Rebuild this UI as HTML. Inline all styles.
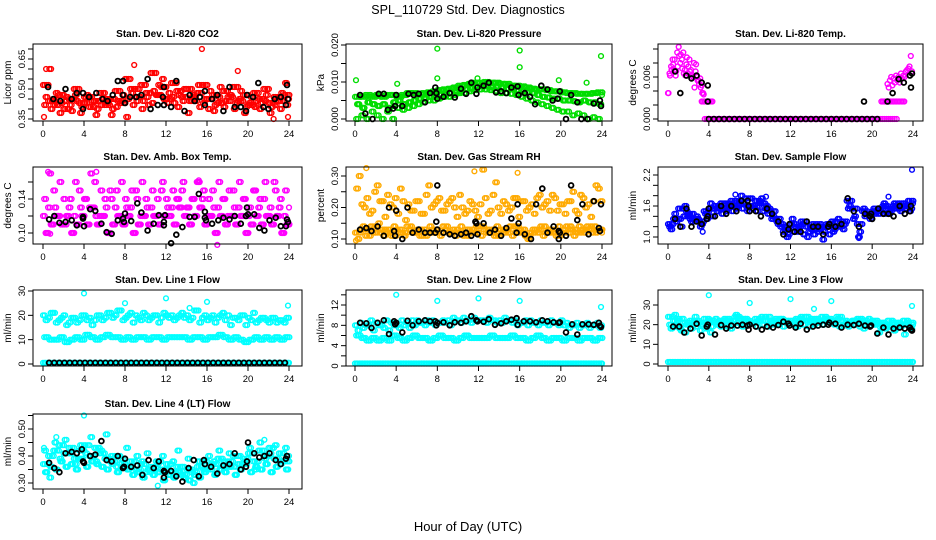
<!DOCTYPE html>
<html><head><meta charset="utf-8"><style>
body{margin:0;background:#fff;}
svg{display:block;font-family:"Liberation Sans",Arial,sans-serif;}
</style></head><body>
<svg id="chart" width="936" height="540" viewBox="0 0 936 540">
<rect width="936" height="540" fill="#fff"/>
<text x="468" y="14" font-size="12.5" text-anchor="middle">SPL_110729  Std. Dev. Diagnostics</text>
<text x="468" y="531" font-size="13" text-anchor="middle">Hour of Day (UTC)</text>
</svg>
<script>
// ---------- data ----------
const xTicks=[0,4,8,12,16,20,24];
const stepHalf=0.5;

const co2A=[0.52,0.44,0.42,0.47,0.40,0.45,0.50,0.43,0.46,0.41,0.44,0.48,0.42,0.45,0.49,0.43,0.55,0.50,0.46,0.52,0.48,0.58,0.47,0.51,0.45,0.53,0.49,0.46,0.50,0.44,0.48,0.52,0.45,0.47,0.43,0.49,0.46,0.51,0.44,0.47,0.42,0.48,0.45,0.50,0.43,0.46,0.44,0.47,0.45];
const co2B=[0.46,0.40,0.48,0.43,0.46,0.39,0.44,0.41,0.47,0.44,0.40,0.45,0.43,0.40,0.44,0.47,0.45,0.42,0.50,0.44,0.42,0.49,0.52,0.45,0.48,0.43,0.47,0.50,0.44,0.46,0.41,0.45,0.49,0.42,0.51,0.44,0.47,0.43,0.49,0.41,0.46,0.44,0.43,0.47,0.41,0.44,0.48,0.42,0.43];
const co2C=[0.42,0.60,0.45,0.38,0.44,0.42,0.47,0.38,0.43,0.46,0.37,0.42,0.45,0.37,0.41,0.44,0.36,0.48,0.44,0.40,0.46,0.43,0.47,0.55,0.43,0.46,0.41,0.44,0.38,0.47,0.52,0.43,0.40,0.39,0.46,0.41,0.44,0.40,0.45,0.38,0.43,0.41,0.40,0.44,0.38,0.42,0.40,0.53,0.44];
const co2OutT=[0.3,8.9,15.5,19.0,0.1,22.5,23.9];
const co2OutV=[0.60,0.62,0.70,0.59,0.36,0.35,0.36];
const co2BlkT=[0.5,1,1.7,2.2,2.8,3.3,3.9,3.9,4.5,5.2,5.8,6.3,6.8,7.3,7.8,7.8,8.0,8.5,9.1,9.6,10.2,10.5,11.2,11.7,11.8,11.8,12.5,13.0,13.8,14.3,14.8,15.3,15.8,15.8,16.5,17.0,17.6,18.2,18.7,19.3,19.8,19.9,20.5,21.0,21.5,22.0,22.6,23.2,23.7,23.8,23.9];
const co2BlkV=[0.51,0.45,0.44,0.50,0.45,0.48,0.40,0.48,0.46,0.48,0.45,0.44,0.47,0.54,0.54,0.47,0.43,0.46,0.46,0.47,0.55,0.40,0.42,0.46,0.42,0.51,0.41,0.54,0.39,0.47,0.44,0.46,0.42,0.49,0.45,0.47,0.39,0.51,0.41,0.41,0.39,0.47,0.46,0.53,0.41,0.40,0.45,0.46,0.42,0.52,0.45];

const presA=[0.006,0.006,0.0065,0.006,0.0065,0.006,0.0065,0.0065,0.006,0.0065,0.007,0.007,0.0068,0.007,0.0072,0.0075,0.0078,0.008,0.0082,0.0085,0.009,0.0092,0.0095,0.0098,0.0098,0.01,0.0098,0.0098,0.0095,0.0095,0.009,0.009,0.0088,0.0085,0.0082,0.008,0.008,0.0078,0.0075,0.0075,0.0072,0.007,0.007,0.0068,0.0068,0.0068,0.007,0.0072,0.0065];
const presB=[0.004,0.003,0.0045,0.004,0.0035,0.004,0.003,0.0045,0.005,0.004,0.0045,0.005,0.0055,0.0055,0.006,0.006,0.0065,0.0065,0.007,0.0072,0.0075,0.008,0.0082,0.0085,0.0088,0.0088,0.0085,0.0088,0.0085,0.0082,0.008,0.0078,0.0075,0.0072,0.007,0.0065,0.006,0.0058,0.0055,0.0055,0.005,0.005,0.0048,0.0045,0.005,0.0045,0.0045,0.004,0.004];
const presC=[0.0,0.001,0.0,0.002,0.001,0.0,0.002,0.0,0.003,0.0025,0.003,0.0035,0.004,0.0045,0.005,0.005,0.0055,0.006,0.006,0.0065,0.007,0.007,0.0075,0.0078,0.008,0.008,0.0078,0.0075,0.007,0.007,0.0068,0.0065,0.006,0.0055,0.005,0.0045,0.004,0.0035,0.003,0.0025,0.002,0.002,0.001,0.0015,0.001,0.0,0.0005,0.0,0.002];
const presOutT=[0.1,8.0,8.0,16.0,16.0,23.9,4.1,11.9,19.8,22.5];
const presOutV=[0.0105,0.019,0.011,0.0185,0.014,0.017,0.0095,0.011,0.0105,0.0098];
const presBlkT=[0.5,1.0,1.7,2.3,2.8,3.2,3.7,3.9,4.0,4.6,5.2,5.7,6.2,6.8,7.3,7.8,7.9,8.0,8.6,9.2,9.7,10.3,10.8,11.3,11.8,11.9,12.5,13.0,13.7,14.2,14.7,15.2,15.8,15.9,16.5,17.0,17.5,18.1,18.7,19.2,19.7,19.9,20.5,21.0,21.6,22.0,22.6,23.2,23.8,23.9];
const presBlkV=[0.0065,0.0015,0,0.0068,0.0068,0.0025,0.0028,0.0035,0.0065,0.0035,0.0068,0.0065,0.0068,0.0045,0.007,0.0085,0.007,0.0055,0.006,0.007,0.0058,0.0082,0.0068,0.0098,0.0068,0.0085,0.009,0.0098,0.0072,0.0075,0.007,0.0085,0.0088,0.0065,0.007,0.006,0.004,0.009,0.008,0.005,0.0055,0.0075,0,0.0065,0.0045,0,0,0.0042,0.005,0.0035];

const tempEarlyA=[0.0037,0.0065,0.0075,0.0085,0.007,0.0062,0.0095,0.0103,0.008,0.0085,0.0095,0.007,0.0078,0.0065,0.0085,0.007,0.0062,0.008,0.0068,0.006,0.0055,0.0058,0.0048,0.0037];
const tempEarlyB=[0.0037,0.0062,0.007,0.0078,0.0085,0.0068,0.0075,0.009,0.0092,0.0072,0.0065,0.0062,0.0088,0.0075,0.0068,0.0058,0.006,0.0045,0.0078,0.0055,0.005,0.0045,0.0037,0.0035];
const tempLevelA=[0.0025,0.0025,0.0025,0.0025,0.0025,0.0025,0.0025,0.0025];
const tempZero=[0,0,0,0,0,0,0,0,0,0,0,0,0,0,0,0,0,0,0,0,0,0,0,0,0,0,0,0,0,0,0,0,0,0,0,0,0,0,0,0,0,0,0,0,0,0,0,0,0,0,0,0,0,0,0,0,0,0,0,0,0,0,0,0,0,0,0,0,0,0,0,0,0,0,0,0,0,0,0,0,0,0,0,0,0,0,0,0,0,0,0,0,0,0,0];
const tempLevelB=[0.0025,0.0025,0.0025,0.0025,0.0025,0.0025,0.0025,0.0025,0.0025,0.0025,0.0025,0.0025,0.0025,0.0025,0.0025,0.0025];
const tempLate=[0.005,0.0045,0.0055,0.006,0.0048,0.0058,0.0052,0.0062,0.0055,0.006,0.0052,0.0065,0.0058,0.0062,0.006,0.0068,0.007,0.0072,0.0075,0.009,0.0068];
const tempBlkT=[0.7,1.2,1.8,2.3,2.8,3.3,3.9,3.9,19.2,21.5,22.0,22.6,23.1,23.7,23.8,23.9];
const tempBlkV=[0.0068,0.0037,0.0062,0.0058,0.0062,0.0052,0.0048,0.0025,0.0025,0.0025,0.0037,0.0057,0.0052,0.0062,0.0045,0.0065];
const tempBlkZero=[0,0,0,0,0,0,0,0,0,0,0,0,0,0,0,0,0,0,0,0,0,0,0,0,0,0,0,0,0,0,0,0,0,0];

const ambA=[0.12,0.13,0.15,0.12,0.14,0.13,0.12,0.15,0.14,0.13,0.16,0.12,0.14,0.15,0.13,0.12,0.14,0.13,0.15,0.12,0.14,0.13,0.12,0.15,0.14,0.13,0.14,0.15,0.13,0.14,0.16,0.14,0.12,0.15,0.13,0.14,0.12,0.15,0.13,0.14,0.12,0.15,0.13,0.14,0.12,0.16,0.13,0.12,0.13];
const ambB=[0.10,0.11,0.12,0.11,0.12,0.10,0.11,0.12,0.11,0.13,0.11,0.12,0.10,0.11,0.12,0.11,0.12,0.10,0.11,0.12,0.11,0.12,0.11,0.12,0.12,0.11,0.13,0.12,0.11,0.12,0.13,0.11,0.12,0.10,0.12,0.11,0.12,0.11,0.12,0.10,0.11,0.12,0.11,0.12,0.11,0.12,0.10,0.11,0.12];
const ambC=[0.14,0.17,0.13,0.16,0.11,0.14,0.16,0.13,0.14,0.17,0.12,0.15,0.13,0.14,0.15,0.16,0.13,0.15,0.14,0.16,0.13,0.15,0.14,0.16,0.13,0.15,0.14,0.16,0.13,0.14,0.16,0.15,0.14,0.13,0.16,0.14,0.15,0.13,0.16,0.14,0.13,0.15,0.14,0.16,0.13,0.15,0.14,0.15,0.11];
const ambOutT=[0.5,5.2,17.0,15.2,0.7];
const ambOutV=[0.172,0.172,0.086,0.162,0.099];
const ambBlkT=[0.6,1.1,1.6,2.2,2.8,3.3,3.9,3.9,4.0,4.6,5.1,5.7,6.2,6.7,7.3,7.8,7.9,8.0,8.6,9.2,9.6,10.2,10.8,11.3,11.8,11.8,11.9,12.5,13.0,13.6,14.3,14.8,15.2,15.8,15.8,15.9,16.5,17.1,17.6,18.2,18.7,19.3,19.8,19.9,20.0,20.6,21.1,21.6,22.1,22.7,23.2,23.7,23.8,23.9];
const ambBlkV=[0.116,0.12,0.112,0.113,0.115,0.109,0.119,0.117,0.108,0.128,0.126,0.111,0.101,0.099,0.115,0.117,0.113,0.123,0.114,0.135,0.124,0.103,0.111,0.121,0.113,0.109,0.121,0.088,0.098,0.107,0.119,0.119,0.146,0.125,0.118,0.115,0.111,0.115,0.118,0.116,0.12,0.111,0.12,0.13,0.122,0.122,0.106,0.103,0.115,0.118,0.108,0.108,0.116,0.113];

const rhA=[0.12,0.13,0.11,0.14,0.12,0.13,0.12,0.11,0.13,0.12,0.14,0.12,0.13,0.11,0.12,0.13,0.12,0.14,0.12,0.13,0.12,0.11,0.13,0.12,0.14,0.13,0.12,0.11,0.13,0.12,0.14,0.12,0.13,0.11,0.12,0.13,0.14,0.12,0.13,0.11,0.12,0.14,0.13,0.12,0.13,0.14,0.12,0.13,0.12];
const rhB=[0.10,0.14,0.13,0.12,0.15,0.11,0.13,0.14,0.12,0.11,0.13,0.12,0.11,0.13,0.14,0.12,0.11,0.13,0.12,0.11,0.14,0.13,0.12,0.14,0.11,0.12,0.13,0.14,0.12,0.13,0.11,0.14,0.12,0.10,0.13,0.12,0.11,0.13,0.12,0.14,0.13,0.12,0.11,0.14,0.12,0.13,0.14,0.13,0.12];
const rhC=[0.26,0.21,0.23,0.19,0.27,0.22,0.24,0.20,0.18,0.22,0.21,0.19,0.22,0.18,0.27,0.21,0.23,0.19,0.22,0.20,0.24,0.18,0.22,0.19,0.21,0.23,0.19,0.28,0.18,0.21,0.20,0.23,0.22,0.19,0.21,0.23,0.20,0.22,0.24,0.19,0.21,0.22,0.25,0.18,0.23,0.21,0.22,0.26,0.20];
const rhD=[0.30,0.20,0.18,0.25,0.22,0.17,0.21,0.23,0.26,0.16,0.19,0.22,0.18,0.24,0.20,0.22,0.19,0.21,0.23,0.17,0.20,0.19,0.21,0.17,0.32,0.18,0.24,0.20,0.22,0.19,0.23,0.17,0.22,0.20,0.18,0.24,0.21,0.19,0.23,0.21,0.18,0.22,0.19,0.24,0.20,0.17,0.27,0.22,0.29];
const rhOutT=[1.1,15.8,11.6,0.1];
const rhOutV=[0.325,0.31,0.315,0.095];
const rhBlkT=[0.5,1.1,1.6,2.2,2.8,3.3,3.8,3.9,4.0,4.6,5.1,5.6,6.2,6.8,7.3,7.8,7.9,8.0,8.0,8.6,9.2,9.7,10.3,10.8,11.3,11.7,11.8,11.9,12.5,13.1,13.6,14.2,14.7,15.2,15.7,15.8,15.9,16.5,17.1,17.6,18.2,18.7,19.3,19.8,19.8,19.9,20.5,21.0,21.6,22.1,22.7,23.2,23.7,23.8,23.9];
const rhBlkV=[0.13,0.135,0.125,0.14,0.11,0.20,0.125,0.11,0.19,0.10,0.20,0.12,0.13,0.12,0.12,0.12,0.155,0.27,0.13,0.12,0.115,0.11,0.115,0.12,0.11,0.155,0.15,0.115,0.15,0.12,0.13,0.11,0.135,0.165,0.12,0.21,0.15,0.115,0.10,0.21,0.26,0.12,0.14,0.10,0.125,0.12,0.11,0.27,0.16,0.21,0.115,0.22,0.135,0.125,0.21];

const flowA=[1.25,1.35,1.55,1.40,1.45,1.35,1.30,1.50,1.55,1.60,1.55,1.65,1.60,1.70,1.65,1.75,1.60,1.70,1.65,1.55,1.50,1.35,1.20,1.15,1.25,1.20,1.30,1.20,1.15,1.25,1.20,1.25,1.30,1.20,1.30,1.70,1.55,1.25,1.50,1.45,1.50,1.55,1.60,1.55,1.60,1.65,1.60,1.70,1.65];
const flowB=[1.15,1.30,1.20,1.50,1.30,1.40,1.25,1.35,1.40,1.50,1.45,1.55,1.50,1.60,1.55,1.50,1.55,1.60,1.50,1.45,1.40,1.25,1.10,1.05,1.10,1.15,1.05,1.10,1.05,1.15,1.10,1.05,1.15,1.20,1.25,1.60,1.40,1.10,1.40,1.35,1.45,1.50,1.45,1.50,1.55,1.50,1.55,1.55,1.60];
const flowC=[1.20,1.45,1.35,1.60,1.35,1.30,1.20,1.45,1.65,1.55,1.65,1.50,1.70,1.55,1.80,1.60,1.75,1.50,1.75,1.60,1.35,1.30,1.25,1.00,1.35,1.10,1.25,1.00,1.25,1.10,0.95,1.20,1.10,1.35,1.15,1.55,1.35,1.00,1.55,1.45,1.55,1.45,1.65,1.45,1.65,1.55,1.65,1.50,1.70];
const flowOutT=[23.9,6.6,9.6,3.4,18.7,21.6];
const flowOutV=[2.3,1.82,1.78,1.1,0.98,1.78];
const flowBlkT=[0.7,1.2,1.8,2.3,2.8,3.3,3.8,3.9,4.0,4.6,5.2,5.7,6.2,6.7,7.2,7.8,7.9,8.0,8.6,9.1,9.7,10.2,10.8,11.3,11.8,11.9,12.4,13.0,13.6,14.2,14.7,15.2,15.7,15.8,16.4,17.0,17.6,18.2,18.7,19.3,19.8,19.9,20.0,20.6,21.1,21.6,22.1,22.7,23.2,23.7,23.8];
const flowBlkV=[1.35,1.2,1.55,1.2,1.3,1.25,1.35,1.4,1.55,1.4,1.6,1.45,1.6,1.5,1.7,1.7,1.6,1.5,1.5,1.4,1.55,1.45,1.3,1.05,1.15,1.25,1.1,1.1,1.3,1.2,1.2,1.05,1.2,1.25,1.2,1.25,1.75,1.5,1.2,1.45,1.4,1.45,1.35,1.55,1.45,1.45,1.4,1.6,1.45,1.5,1.6];

const l1A=[20,19,21,18,20,17,19,18,20,19,18,20,19,21,20,22,19,21,20,18,20,19,20,19,20,20,19,21,20,19,22,19,18,20,19,21,20,19,18,20,19,21,18,19,17,19,18,17,19];
const l1B=[18,21,17,19,16,19,17,20,18,16,20,18,21,19,22,18,20,17,19,21,18,20,17,21,19,18,20,19,18,22,17,20,19,17,20,18,16,19,20,16,18,17,19,18,19,17,18,19,17];
const l1C=[11,10,10,11,9,10,11,10,12,11,10,11,12,11,11,10,11,10,11,11,10,11,11,10,11,11,11,11,10,11,11,10,11,11,12,11,10,11,10,9,10,11,10,11,10,11,10,11,9];
const l1Zero=[0.5,0.5,0.5,0.5,0.5,0.5,0.5,0.5,0.5,0.5,0.5,0.5,0.5,0.5,0.5,0.5,0.5,0.5,0.5,0.5,0.5,0.5,0.5,0.5,0.5,0.5,0.5,0.5,0.5,0.5,0.5,0.5,0.5,0.5,0.5,0.5,0.5,0.5,0.5,0.5,0.5,0.5,0.5,0.5,0.5,0.5,0.5,0.5,0.5];
const l1OutT=[4,8,12,16,23.9,14.3];
const l1OutV=[29,25,27,25.5,24,23];
const l1Blk=[0.5,0.5,0.5,0.5,0.5,0.5,0.5,0.5,0.5,0.5,0.5,0.5,0.5,0.5,0.5,0.5,0.5,0.5,0.5,0.5,0.5,0.5,0.5,0.5,0.5,0.5,0.5,0.5,0.5,0.5,0.5,0.5,0.5,0.5,0.5,0.5,0.5,0.5,0.5,0.5,0.5,0.5,0.5,0.5,0.5,0.5,0.5];

const l2A=[8,8.5,8,9,8.5,8,9,8.5,8,9,8.5,9,9,8.5,9,9,8.5,9,9,9.5,9,9.5,9,9.5,9,9,9.5,9,9,9.5,9,9,8.5,9,9,8.5,9,8.5,9,8.5,9,8.5,8,8.5,8,8.5,8,8.5,8];
const l2B=[7,7.5,8,7,8,7.5,7,8,7.5,8,7.5,8,8.5,8,8.5,8,8.5,8.5,8,9,8.5,9,8.5,9,9,8.5,9,8.5,8.5,9,8.5,8,8.5,8,8.5,8,8.5,8,8.5,8,8,7.5,8,7.5,8,7.5,8,7.5,7];
const l2C=[6,5.5,5,5.5,5,5.5,5,6,5.5,5,5.5,6,5.5,5.5,5,5.5,6,5.5,5.5,5,5.5,6,5.5,5.5,5.5,5.5,6,5.5,5.5,5.5,6,5.5,5.5,5,5.5,6,5.5,5,5.5,5.5,5,5.5,5.5,5,5.5,5.5,5,5.5,5];
const l2OutT=[4,8,12,16,23.9];
const l2OutV=[14,12.8,13.3,12.8,11.6];
const l2BlkT=[0.5,1.1,1.6,2.2,2.8,3.3,3.8,3.9,4.0,4.6,5.1,5.6,6.2,6.8,7.3,7.8,7.9,8.0,8.6,9.2,9.7,10.3,10.8,11.3,11.8,11.9,12.5,13.0,13.6,14.2,14.7,15.2,15.7,15.8,16.4,17.0,17.6,18.2,18.7,19.3,19.8,19.9,20.5,21.1,21.6,22.1,22.7,23.2,23.7,23.8,23.9];
const l2BlkV=[8.5,8.4,7.5,8.5,9,6.3,8.8,8.2,8.5,6.6,8.9,8,8.8,9,8.8,8.8,8,8.5,8.6,8,8.6,8.5,8.8,9.8,9,8.8,8.7,9.2,8.1,8.4,8.8,9.1,9.4,8.1,8.8,8.8,8.6,9,8.8,8.6,8.5,8.6,6.6,8.2,6.2,8.2,8.2,8.1,8.5,7.9,7.7];

const l3A=[24,22,23,21,20,22,21,23,22,21,22,23,22,24,23,22,21,23,22,24,22,23,22,21,22,23,24,22,23,22,24,23,22,24,22,21,22,23,22,21,22,21,20,22,21,20,22,21,20];
const l3B=[18,19,17,20,18,19,20,18,19,20,21,19,20,21,19,20,21,22,20,19,21,20,19,21,20,21,20,19,20,21,22,21,20,19,20,21,20,19,20,21,20,19,18,19,18,19,20,18,17];
const l3C=[20,25,18,16,22,24,17,21,16,23,19,22,18,25,20,23,21,19,24,22,20,21,23,22,20,19,22,24,21,23,20,22,21,23,20,19,22,21,18,23,20,16,21,19,17,21,15,19,18];
const l3Zero=[1,1,1,1,1,1,1,1,1,1,1,1,1,1,1,1,1,1,1,1,1,1,1,1,1,1,1,1,1,1,1,1,1,1,1,1,1,1,1,1,1,1,1,1,1,1,1,1,1];
const l3OutT=[4,8,12,16,14.3,23.9];
const l3OutV=[35,31,33,32,28,29.5];
const l3BlkT=[0.5,1.1,1.6,2.2,2.8,3.3,3.8,3.9,4.6,5.2,5.7,6.2,6.8,7.3,7.8,7.9,8.0,8.6,9.2,9.7,10.3,10.8,11.3,11.8,11.9,12.5,13.0,13.6,14.2,14.7,15.2,15.7,15.8,16.4,17.0,17.6,18.2,18.7,19.3,19.8,19.9,20.5,21.1,21.6,22.1,22.7,23.2,23.7,23.8,23.9];
const l3BlkV=[19,19,16,18,20.5,14.5,19,20,15,19.8,18,19.5,19.5,20,19.5,17.5,20,19,17.5,19,18.5,19.8,21.5,20.5,19.5,18.5,20.5,17.5,19,19.5,20,20,21,20.5,18.5,20,19.8,20.5,19.5,19,19.5,15.5,18.5,15,18,18.5,18,18.5,17.5,17];

const l4A=[0.37,0.40,0.42,0.44,0.41,0.43,0.39,0.42,0.44,0.40,0.43,0.41,0.39,0.38,0.40,0.37,0.36,0.38,0.35,0.37,0.34,0.36,0.38,0.35,0.37,0.34,0.36,0.33,0.35,0.34,0.36,0.38,0.35,0.37,0.39,0.36,0.38,0.40,0.37,0.39,0.41,0.38,0.42,0.40,0.43,0.39,0.41,0.38,0.40];
const l4B=[0.34,0.36,0.35,0.38,0.36,0.37,0.35,0.39,0.36,0.38,0.37,0.36,0.35,0.37,0.34,0.36,0.35,0.33,0.34,0.32,0.35,0.33,0.34,0.31,0.33,0.32,0.34,0.32,0.31,0.33,0.32,0.34,0.36,0.33,0.35,0.34,0.36,0.33,0.35,0.37,0.34,0.36,0.35,0.37,0.34,0.36,0.38,0.35,0.39];
const l4C=[0.42,0.32,0.45,0.39,0.46,0.41,0.37,0.44,0.41,0.47,0.38,0.42,0.48,0.40,0.36,0.39,0.43,0.36,0.40,0.38,0.41,0.35,0.37,0.40,0.35,0.38,0.42,0.36,0.39,0.30,0.38,0.35,0.40,0.38,0.42,0.38,0.41,0.36,0.40,0.38,0.43,0.35,0.45,0.39,0.41,0.44,0.37,0.43,0.40];
const l4OutT=[4,0.1,1.3,21.6,11.2];
const l4OutV=[0.55,0.43,0.47,0.46,0.29];
const l4BlkT=[0.6,1.1,1.6,2.2,2.8,3.3,3.8,3.9,4.0,4.6,5.1,5.7,6.2,6.7,7.3,7.8,7.9,8.0,8.6,9.2,9.7,10.3,10.8,11.3,11.8,11.8,11.9,12.5,13.0,13.6,14.2,14.7,15.2,15.7,15.8,16.4,17.0,17.6,18.2,18.7,19.3,19.8,19.9,20.0,20.6,21.1,21.6,22.1,22.7,23.2,23.7,23.8];
const l4BlkV=[0.375,0.355,0.34,0.41,0.415,0.41,0.425,0.38,0.375,0.40,0.405,0.455,0.385,0.38,0.40,0.355,0.36,0.39,0.36,0.365,0.33,0.385,0.355,0.38,0.345,0.32,0.34,0.345,0.325,0.305,0.355,0.385,0.325,0.385,0.37,0.36,0.335,0.365,0.37,0.41,0.35,0.36,0.38,0.45,0.41,0.395,0.40,0.41,0.385,0.37,0.39,0.40];

// ---------- drawing ----------
const NS='http://www.w3.org/2000/svg';
const svg=document.getElementById('chart');
function mk(tag,attrs,parent){const e=document.createElementNS(NS,tag);for(const k in attrs)e.setAttribute(k,attrs[k]);(parent||svg).appendChild(e);return e;}
const cols=[{l:33,r:302,x0:43,x24:289},{l:346,r:612,x0:355,x24:602},{l:658,r:923,x0:668,x24:913}];
const rows=[{t:44,b:121},{t:167,b:244},{t:290,b:366},{t:414,b:489}];
const dupShifts=[0,0.17];

function panel(ci,ri,o){
  const c=cols[ci],r=rows[ri];
  const g=mk('g',{});
  
  
  const xs=t=>c.x0+(t/24)*(c.x24-c.x0);
  const ys=v=>o.py0+(v-o.v0)*(o.py1-o.py0)/(o.v1-o.v0);
  const pts=mk('g',{},g);
  
  
  function dot(t,v,col,w){if(t>24.05)return;const e=mk('circle',{cx:xs(t).toFixed(1),cy:ys(v).toFixed(1),r:2.4,fill:'none',stroke:col,'stroke-width':w||1.4},pts);
    
    }
  const shifts=o.noDup?[0]:dupShifts;
  for(const sh of shifts) for(const s of o.grid){ for(let i=0;i<s.vals.length;i++) dot(s.t0+sh+i*s.dt,s.vals[i],o.col); }
  if(o.outT) for(let i=0;i<o.outT.length;i++) dot(o.outT[i],o.outV[i],o.col);
  for(const s of (o.blkGrid||[])){ for(let i=0;i<s.vals.length;i++) dot(s.t0+i*s.dt,s.vals[i],'#000',1.8); }
  if(o.blkT) for(let i=0;i<o.blkT.length;i++) dot(o.blkT[i],o.blkV[i],'#000',1.8);
  const box=mk('rect',{x:c.l,y:r.t,width:c.r-c.l,height:r.b-r.t,fill:'none',stroke:'#000','stroke-width':1},g);
  
  
  const tt=mk('text',{x:(c.l+c.r)/2,y:r.t-7,'font-size':10,'font-weight':'bold','text-anchor':'middle'},g);
  tt.textContent=o.title;
  
  
  for(const t of xTicks){const x=xs(t);
    mk('line',{x1:x,x2:x,y1:r.b,y2:r.b+5,stroke:'#000'},g);
    const lb=mk('text',{x:x,y:r.b+16,'font-size':9.5,'text-anchor':'middle'},g);lb.textContent=t;
    
    }
  for(const v of o.ticks){const y=ys(v);
    mk('line',{x1:c.l-5,x2:c.l,y1:y,y2:y,stroke:'#000'},g);}
  for(let i=0;i<o.labels.length;i++){const y=ys(o.labelVals[i]);
    const lb=mk('text',{x:0,y:0,'font-size':9.5,'text-anchor':'middle',transform:`translate(${c.l-8},${y}) rotate(-90)`},g);lb.textContent=o.labels[i];
    
    }
  const yt=mk('text',{x:0,y:0,'font-size':10,'text-anchor':'middle',transform:`translate(${c.l-22},${(r.t+r.b)/2}) rotate(-90)`},g);
  yt.textContent=o.ylab;
  
  
}
const H=a=>({t0:0,dt:stepHalf,vals:a});
const H2=a=>({t0:0.25,dt:stepHalf,vals:a});

panel(0,0,{name:'co2-panel',title:'Stan. Dev. Li-820 CO2',ylab:'Licor ppm',col:'#ff0000',v0:0.35,v1:0.65,py0:119,py1:59,
  ticks:[0.35,0.40,0.45,0.50,0.55,0.60,0.65,0.70],labelVals:[0.35,0.50,0.65],labels:['0.35','0.50','0.65'],
  grid:[H(co2A),H2(co2B),{t0:0.12,dt:0.5,vals:co2C},{t0:0.37,dt:0.5,vals:co2A}],outT:co2OutT,outV:co2OutV,blkT:co2BlkT,blkV:co2BlkV});
panel(1,0,{name:'pressure-panel',title:'Stan. Dev. Li-820 Pressure',ylab:'kPa',col:'#00dd00',v0:0,v1:0.02,py0:119,py1:45,
  ticks:[0,0.005,0.01,0.015,0.02],labelVals:[0,0.01,0.02],labels:['0.000','0.010','0.020'],
  grid:[H(presA),H2(presB),{t0:0.12,dt:0.5,vals:presC},{t0:0.37,dt:0.5,vals:presA},{t0:0.2,dt:0.5,vals:presB}],outT:presOutT,outV:presOutV,blkT:presBlkT,blkV:presBlkV});
panel(2,0,{name:'temp-panel',title:'Stan. Dev. Li-820 Temp.',ylab:'degrees C',col:'#ff00ff',v0:0,v1:0.01,py0:119,py1:49,noDup:true,
  ticks:[0,0.002,0.004,0.006,0.008,0.01],labelVals:[0,0.006],labels:['0.000','0.006'],
  grid:[{t0:0,dt:0.15,vals:tempEarlyA},{t0:0.05,dt:0.15,vals:tempEarlyB},{t0:3.3,dt:0.15,vals:tempLevelA},{t0:3.6,dt:0.2,vals:tempZero},{t0:20.9,dt:0.15,vals:tempLevelB},{t0:21.5,dt:0.12,vals:tempLate}],
  blkGrid:[{t0:4,dt:0.5,vals:tempBlkZero}],blkT:tempBlkT,blkV:tempBlkV});
panel(0,1,{name:'amb-box-temp-panel',title:'Stan. Dev. Amb. Box Temp.',ylab:'degrees C',col:'#ff00ff',v0:0.10,v1:0.16,py0:233,py1:182,
  ticks:[0.10,0.12,0.14,0.16],labelVals:[0.10,0.14],labels:['0.10','0.14'],
  grid:[H(ambA),H2(ambB),{t0:0.12,dt:0.5,vals:ambC},{t0:0.37,dt:0.5,vals:ambB}],outT:ambOutT,outV:ambOutV,blkT:ambBlkT,blkV:ambBlkV});
panel(1,1,{name:'gas-stream-rh-panel',title:'Stan. Dev. Gas Stream RH',ylab:'percent',col:'#ffaa00',v0:0.10,v1:0.30,py0:239,py1:176,
  ticks:[0.10,0.15,0.20,0.25,0.30],labelVals:[0.10,0.20,0.30],labels:['0.10','0.20','0.30'],
  grid:[H(rhA),H2(rhB),{t0:0.12,dt:0.5,vals:rhC},{t0:0.37,dt:0.5,vals:rhD},{t0:0.37,dt:0.5,vals:rhA}],outT:rhOutT,outV:rhOutV,blkT:rhBlkT,blkV:rhBlkV});
panel(2,1,{name:'sample-flow-panel',title:'Stan. Dev. Sample Flow',ylab:'ml/min',col:'#0000ff',v0:1.0,v1:2.2,py0:237,py1:175,
  ticks:[1.0,1.2,1.4,1.6,1.8,2.0,2.2],labelVals:[1.0,1.6,2.2],labels:['1.0','1.6','2.2'],
  grid:[H(flowA),H2(flowB),{t0:0.12,dt:0.5,vals:flowC},{t0:0.37,dt:0.5,vals:flowA}],outT:flowOutT,outV:flowOutV,blkT:flowBlkT,blkV:flowBlkV});
panel(0,2,{name:'line1-flow-panel',title:'Stan. Dev. Line 1 Flow',ylab:'ml/min',col:'#00ffff',v0:0,v1:30,py0:364,py1:291,
  ticks:[0,10,20,30],labelVals:[0,10,20,30],labels:['0','10','20','30'],
  grid:[H(l1A),H2(l1B),{t0:0.12,dt:0.5,vals:l1C},{t0:0.37,dt:0.5,vals:l1C},H(l1Zero),H2(l1Zero)],outT:l1OutT,outV:l1OutV,
  blkGrid:[{t0:0.6,dt:0.5,vals:l1Blk}]});
panel(1,2,{name:'line2-flow-panel',title:'Stan. Dev. Line 2 Flow',ylab:'ml/min',col:'#00ffff',v0:0,v1:12,py0:366,py1:305,
  ticks:[0,2,4,6,8,10,12,14],labelVals:[0,4,8,12],labels:['0','4','8','12'],
  grid:[H(l2A),H2(l2B),{t0:0.12,dt:0.5,vals:l2C},{t0:0.37,dt:0.5,vals:l2C},H(l1Zero),H2(l1Zero)],outT:l2OutT,outV:l2OutV,blkT:l2BlkT,blkV:l2BlkV});
panel(2,2,{name:'line3-flow-panel',title:'Stan. Dev. Line 3 Flow',ylab:'ml/min',col:'#00ffff',v0:0,v1:30,py0:364,py1:305,
  ticks:[0,10,20,30],labelVals:[0,10,20,30],labels:['0','10','20','30'],
  grid:[H(l3A),H2(l3B),{t0:0.12,dt:0.5,vals:l3C},{t0:0.37,dt:0.5,vals:l3A},H(l3Zero),H2(l3Zero)],outT:l3OutT,outV:l3OutV,blkT:l3BlkT,blkV:l3BlkV});
panel(0,3,{name:'line4-flow-panel',title:'Stan. Dev. Line 4 (LT) Flow',ylab:'ml/min',col:'#00ffff',v0:0.30,v1:0.50,py0:483,py1:429,
  ticks:[0.30,0.35,0.40,0.45,0.50,0.55],labelVals:[0.30,0.40,0.50],labels:['0.30','0.40','0.50'],
  grid:[H(l4A),H2(l4B),{t0:0.12,dt:0.5,vals:l4C},{t0:0.37,dt:0.5,vals:l4A},{t0:0.2,dt:0.5,vals:l4B}],outT:l4OutT,outV:l4OutV,blkT:l4BlkT,blkV:l4BlkV});
</script>
</body></html>
